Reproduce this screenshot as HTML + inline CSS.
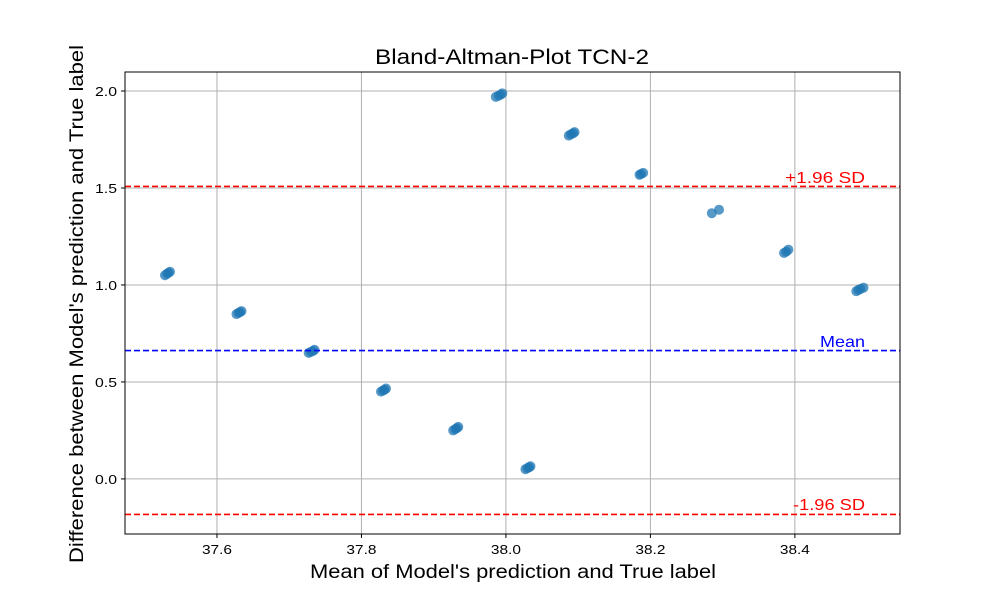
<!DOCTYPE html>
<html><head><meta charset="utf-8">
<style>
html,body{margin:0;padding:0;background:#fff;}
svg{display:block;font-family:"Liberation Sans","DejaVu Sans",sans-serif;}
</style></head>
<body>
<svg id="chart" width="1000" height="600" viewBox="0 0 1000 600"></svg>
<script>
const xTicks = [37.6, 37.8, 38.0, 38.2, 38.4];
const yTicks = [0.0, 0.5, 1.0, 1.5, 2.0];
const xTickLabels = ["37.6", "37.8", "38.0", "38.2", "38.4"];
const yTickLabels = ["0.0", "0.5", "1.0", "1.5", "2.0"];
const meanVals = [37.528,37.531,37.533,37.535, 37.627,37.630,37.632,37.634, 37.727,37.730,37.733,37.735, 37.827,37.830,37.832,37.834, 37.927,37.930,37.932,37.934, 38.027,38.030,38.032,38.034, 37.986,37.990,37.993,37.995, 38.087,38.090,38.093,38.095, 38.185,38.187,38.190, 38.285,38.295, 38.385,38.388,38.391, 38.485,38.488,38.491,38.495];
const diffVals = [1.050,1.058,1.063,1.068, 0.850,0.856,0.860,0.865, 0.650,0.655,0.660,0.666, 0.450,0.456,0.460,0.466, 0.250,0.257,0.262,0.268, 0.050,0.056,0.060,0.065, 1.970,1.976,1.982,1.988, 1.770,1.777,1.782,1.788, 1.568,1.572,1.578, 1.370,1.388, 1.165,1.172,1.182, 0.968,0.974,0.980,0.986];
const meanLine = [0.662];
const upperLimit = [1.508];
const lowerLimit = [-0.183];

const L=125,R=900,T=72,B=534;
const xMin=37.4727, xMax=38.5455, yMin=-0.284, yMax=2.098;
const xs=v=>L+(v-xMin)/(xMax-xMin)*(R-L);
const ys=v=>B-(v-yMin)/(yMax-yMin)*(B-T);
const svg=document.getElementById('chart');
const NS='http://www.w3.org/2000/svg';
function mk(tag,attrs,parent){const e=document.createElementNS(NS,tag);for(const k in attrs)e.setAttribute(k,attrs[k]);(parent||svg).appendChild(e);return e;}

xTicks.forEach((t,i)=>{
  const g=mk('line',{x1:xs(t),x2:xs(t),y1:T,y2:B,stroke:'#b0b0b0','stroke-width':1});
  
  
  const tk=mk('line',{x1:xs(t),x2:xs(t),y1:B,y2:B+4,stroke:'#000'});
  
  
  const tx=mk('text',{x:xs(t),y:B+20,'text-anchor':'middle','font-size':13,textLength:30,lengthAdjust:'spacingAndGlyphs'});
  tx.textContent=xTickLabels[i];
  
  
});
yTicks.forEach((t,i)=>{
  const g=mk('line',{x1:L,x2:R,y1:ys(t),y2:ys(t),stroke:'#b0b0b0','stroke-width':1});
  
  
  const tk=mk('line',{x1:L-4,x2:L,y1:ys(t),y2:ys(t),stroke:'#000'});
  
  
  const tx=mk('text',{x:L-8,y:ys(t)+5,'text-anchor':'end','font-size':13,textLength:22,lengthAdjust:'spacingAndGlyphs'});
  tx.textContent=yTickLabels[i];
  
  
});

meanVals.forEach((m,i)=>{
  const c=mk('circle',{cx:xs(m),cy:ys(diffVals[i]),r:5,fill:'#1f77b4','fill-opacity':0.75});
  
  
});

function hline(v,color,name,label,ly,tl){
  const l=mk('line',{x1:L,x2:R,y1:ys(v),y2:ys(v),stroke:color,'stroke-width':1.6,'stroke-dasharray':'6,3'});
  
  
  const t=mk('text',{x:865,y:ly,'text-anchor':'end','font-size':16,fill:color,textLength:tl,lengthAdjust:'spacingAndGlyphs'});
  t.textContent=label;
  
  
}
hline(upperLimit[0],'#ff0000','upper-limit-line','+1.96 SD',183,80);
hline(meanLine[0],'#0000ff','mean-line','Mean',347,45);
hline(lowerLimit[0],'#ff0000','lower-limit-line','-1.96 SD',510,72);

const f=mk('rect',{x:L,y:T,width:R-L,height:B-T,fill:'none',stroke:'#000','stroke-width':1});



const title=mk('text',{x:512,y:64,'text-anchor':'middle','font-size':21,textLength:274,lengthAdjust:'spacingAndGlyphs'});
title.textContent='Bland-Altman-Plot TCN-2';


const xl=mk('text',{x:513,y:578,'text-anchor':'middle','font-size':19,textLength:406,lengthAdjust:'spacingAndGlyphs'});
xl.textContent="Mean of Model's prediction and True label";


const yl=mk('text',{x:0,y:0,'text-anchor':'middle','font-size':19,textLength:518,lengthAdjust:'spacingAndGlyphs',transform:'translate(83,304) rotate(-90)'});
yl.textContent="Difference between Model's prediction and True label";


</script>
</body></html>
